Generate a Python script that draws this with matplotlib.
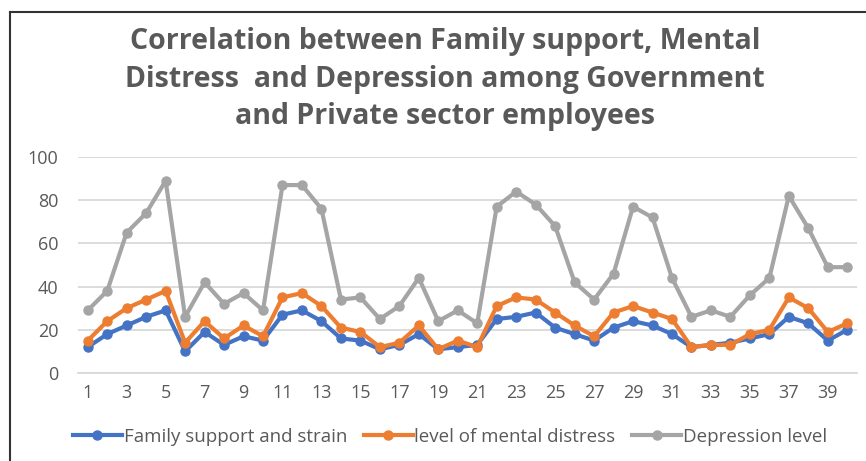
import matplotlib.pyplot as plt
from matplotlib.lines import Line2D
import numpy as np

plt.rcParams['font.family'] = ['Open Sans', 'DejaVu Sans']

# Data
x = list(range(1, 41))
family_support = [12, 18, 22, 26, 29, 10, 19, 13, 17, 15,
                  27, 29, 24, 16, 15, 11, 13, 18, 11, 12,
                  13, 25, 26, 28, 21, 18, 15, 21, 24, 22,
                  18, 12, 13, 14, 16, 18, 26, 23, 15, 20]
mental_distress = [15, 24, 30, 34, 38, 14, 24, 16, 22, 17,
                   35, 37, 31, 21, 19, 12, 14, 22, 11, 15,
                   12, 31, 35, 34, 28, 22, 17, 28, 31, 28,
                   25, 12, 13, 13, 18, 20, 35, 30, 19, 23]
depression = [29, 38, 65, 74, 89, 26, 42, 32, 37, 29,
              87, 87, 76, 34, 35, 25, 31, 44, 24, 29,
              23, 77, 84, 78, 68, 42, 34, 46, 77, 72,
              44, 26, 29, 26, 36, 44, 82, 67, 49, 49]
series_names = ["Family support and strain", "level of mental distress",
                "Depression level"]
colors = ["#4472C4", "#ED7D31", "#A5A5A5"]

fig = plt.figure(figsize=(8.66, 4.61), dpi=100)
ax = fig.add_axes([78 / 866, 1 - 373 / 461, (857 - 78) / 866, (373 - 157) / 461])

for ys, name, c in zip([family_support, mental_distress, depression],
                       series_names, colors):
    ax.plot(x, ys, color=c, lw=3.0, marker="o", ms=6.5, label=name,
            solid_joinstyle="round")

ax.set_xlim(0.5, 40.5)
ax.set_ylim(0, 100)
ax.set_yticks(range(0, 101, 20))
ax.set_xticks(range(1, 40, 2))
ax.grid(axis="y", color="#D9D9D9", lw=1.3)
ax.set_axisbelow(True)
for s in ["top", "right", "left"]:
    ax.spines[s].set_visible(False)
ax.spines["bottom"].set_color("#D9D9D9")
ax.spines["bottom"].set_linewidth(1.3)
ax.tick_params(length=0, colors="#595959", labelsize=13)
ax.tick_params(axis="y", pad=14)
ax.tick_params(axis="x", pad=8)

fig.text(445 / 866, 1 - 79 / 461,
         "Correlation between Family support, Mental\n"
         "Distress  and Depression among Government\n"
         "and Private sector employees",
         ha="center", va="center", fontsize=20.5, fontweight="bold",
         color="#595959", linespacing=1.38)

fig.legend(loc="center", bbox_to_anchor=(450 / 866, 1 - 437 / 461), ncol=3,
           frameon=False, fontsize=13.5, labelcolor="#595959",
           handlelength=2.6, columnspacing=0.9, handletextpad=0.1)

# outer frame (top and left edges visible in the reference)
fig.add_artist(Line2D([10 / 866, 1], [1 - 12 / 461, 1 - 12 / 461],
                      transform=fig.transFigure, color="#333333", lw=1.5))
fig.add_artist(Line2D([10 / 866, 10 / 866], [0, 1 - 12 / 461],
                      transform=fig.transFigure, color="#333333", lw=1.5))

fig.savefig("out.png", dpi=100)
